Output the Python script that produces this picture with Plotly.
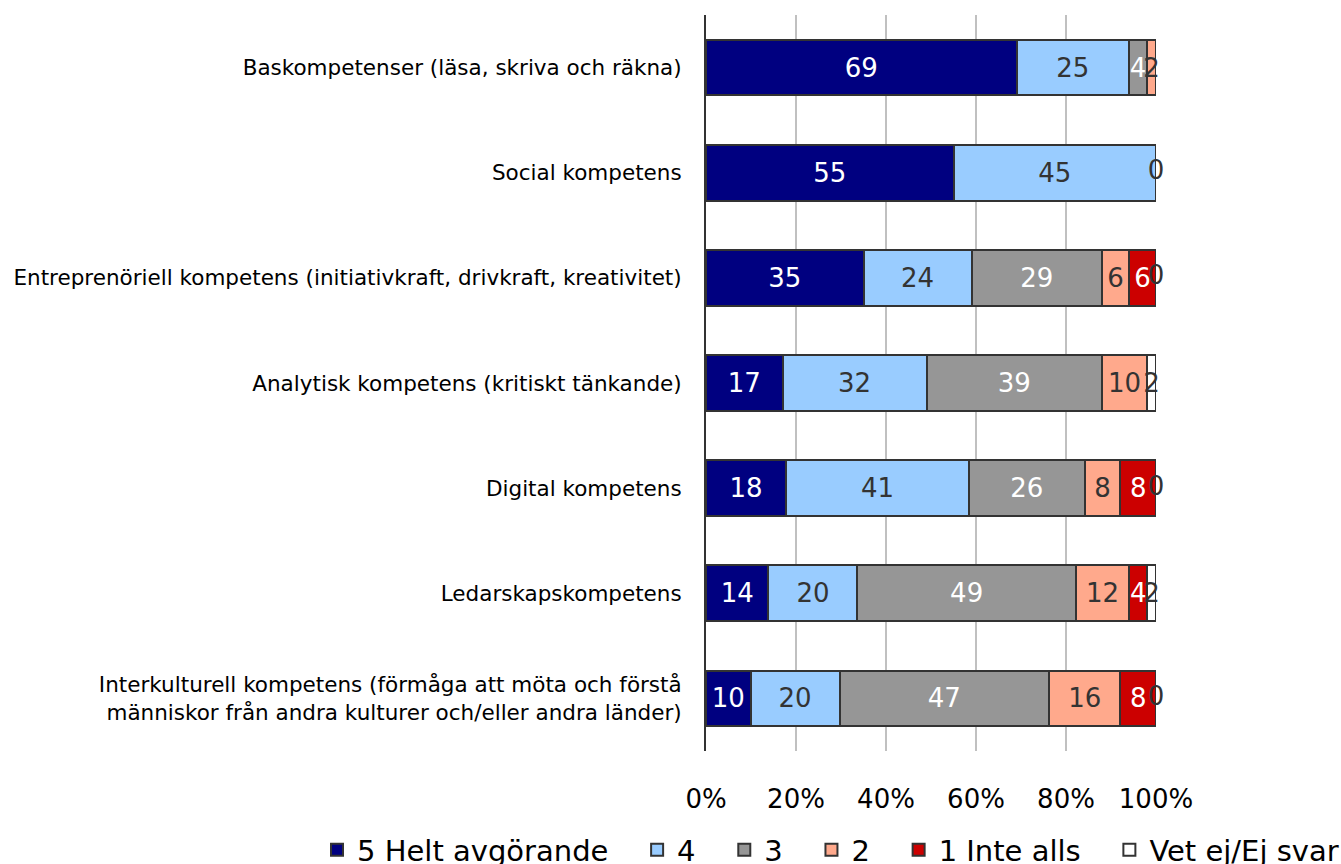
import plotly.graph_objects as go

categories = [
    "Baskompetenser (läsa, skriva och räkna)",
    "Social kompetens",
    "Entreprenöriell kompetens (initiativkraft, drivkraft, kreativitet)",
    "Analytisk kompetens (kritiskt tänkande)",
    "Digital kompetens",
    "Ledarskapskompetens",
    "Interkulturell kompetens (förmåga att möta och förstå<br>människor från andra kulturer och/eller andra länder)",
]

series_names = ["5 Helt avgörande", "4", "3", "2", "1 Inte alls", "Vet ej/Ej svar"]

v5 = [69, 55, 35, 17, 18, 14, 10]
v4 = [25, 45, 24, 32, 41, 20, 20]
v3 = [4, None, 29, 39, 26, 49, 47]
v2 = [2, None, 6, 10, 8, 12, 16]
v1 = [None, None, 6, None, 8, 4, 8]
v0 = [None, 0, 0, 2, 0, 2, 0]

series_values = [v5, v4, v3, v2, v1, v0]
colors = ["#000080", "#99CCFF", "#969696", "#FFA98C", "#CC0000", "#FFFFFF"]
text_colors = ["#FFFFFF", "#333333", "#FFFFFF", "#333333", "#FFFFFF", "#333333"]

x_ticks = [0, 20, 40, 60, 80, 100]

FONT = "DejaVu Sans, Verdana, sans-serif"
LEGEND_PAD = "\u00a0\u2002"

fig = go.Figure()
for k, (name, vals, col, tcol) in enumerate(zip(series_names, series_values, colors, text_colors)):
    texts = ["" if (v is None or v == 0) else str(v) for v in vals]
    shown_name = name + (LEGEND_PAD if k < len(series_names) - 1 else "")
    fig.add_trace(go.Bar(
        y=categories,
        x=vals,
        name=shown_name,
        orientation="h",
        marker=dict(color=col, line=dict(color="#333333", width=2)),
        text=texts,
        texttemplate="%{text}",
        textposition="inside",
        insidetextanchor="middle",
        constraintext="none",
        textangle=0,
        insidetextfont=dict(family=FONT, size=26, color=tcol),
        cliponaxis=False,
        hoverinfo="skip",
    ))

# labels for zero-valued segments (drawn at their stacked position on the same axes)
zero_x, zero_y, zero_t = [], [], []
for i, cat in enumerate(categories):
    row = [s[i] for s in series_values]
    total = sum(v for v in row if v is not None)
    cum = 0
    for v in row:
        if v is None:
            continue
        if v == 0:
            zero_x.append(cum / total * 100)
            zero_y.append(cat)
            zero_t.append(str(v))
        cum += v

fig.add_trace(go.Scatter(
    x=zero_x, y=zero_y, text=zero_t, mode="text",
    textposition="middle center",
    textfont=dict(family=FONT, size=26, color="#333333"),
    showlegend=False, cliponaxis=False, hoverinfo="skip",
))

fig.update_layout(
    width=1341,
    height=864,
    barmode="stack",
    barnorm="percent",
    bargap=0.47,
    plot_bgcolor="white",
    paper_bgcolor="white",
    font=dict(family=FONT, color="#000000"),
    margin=dict(l=706, r=185, t=15, b=113, autoexpand=False),
    showlegend=True,
    legend=dict(
        orientation="h",
        x=-0.8644,
        xanchor="left",
        y=-0.1345,
        yanchor="middle",
        font=dict(family=FONT, size=29, color="#000000"),
        traceorder="normal",
        itemwidth=30,
        bgcolor="rgba(0,0,0,0)",
    ),
    xaxis=dict(
        range=[0, 100],
        tickvals=x_ticks,
        ticktext=[f"{t}%" for t in x_ticks],
        showgrid=True,
        gridcolor="#C0C0C0",
        gridwidth=2,
        zeroline=False,
        showline=False,
        ticks="",
        ticklabelstandoff=30,
        tickfont=dict(family=FONT, size=26, color="#000000"),
        fixedrange=True,
    ),
    yaxis=dict(
        categoryorder="array",
        categoryarray=categories,
        autorange="reversed",
        showline=True,
        linecolor="#333333",
        linewidth=2,
        showgrid=False,
        ticks="",
        ticklabelstandoff=18,
        tickfont=dict(family=FONT, size=21.5, color="#000000"),
        fixedrange=True,
    ),
)

fig.write_html(
    "out.html",
    config={"displayModeBar": False},
    post_script="document.body.style.margin='0';document.body.style.overflow='hidden';",
)
